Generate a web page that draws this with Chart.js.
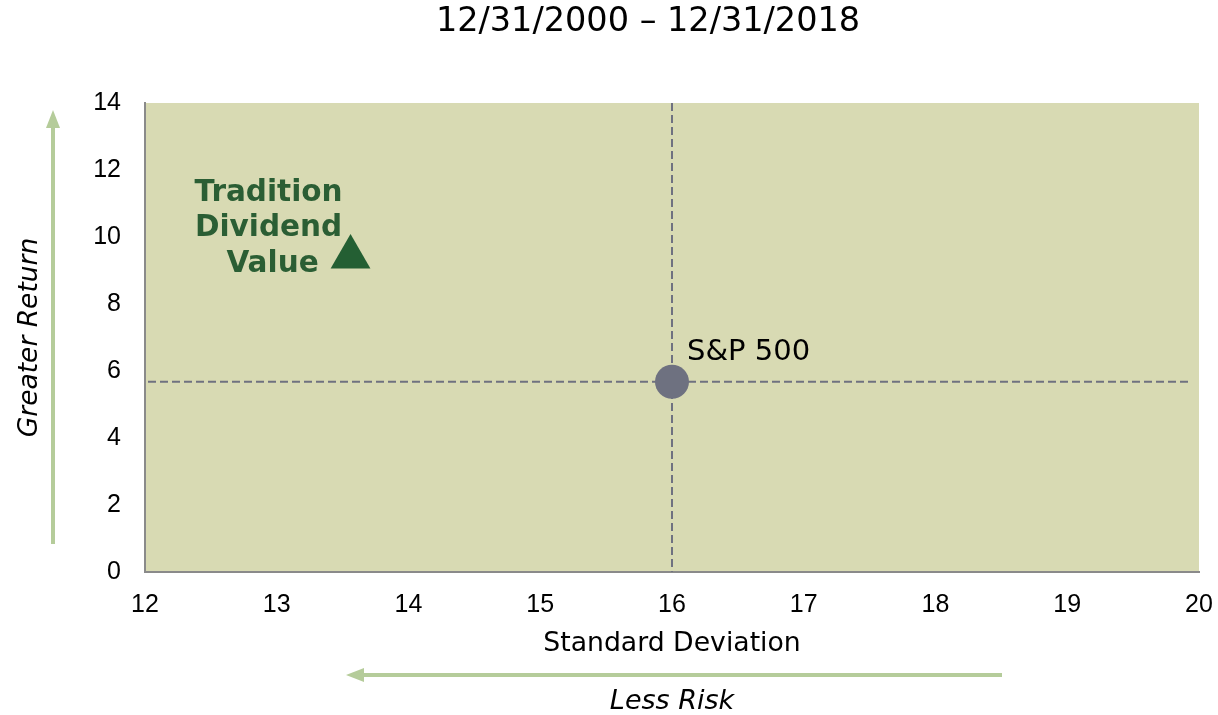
<!DOCTYPE html>
<html>
<head>
<meta charset="utf-8">
<script src="https://cdn.jsdelivr.net/npm/chart.js@4"></script>
<style>
  html, body { margin: 0; padding: 0; background: #fff; overflow: hidden; }
  #wrap { width: 1218px; height: 715px; }
</style>
</head>
<body>
<div id="wrap"><canvas id="chart"></canvas></div>
<script>
// Risk / return data (standard deviation, annualised return)
const seriesNames = ['Tradition Dividend Value', 'S&P 500'];
const stdDev = [13.56, 16.0];
const returns = [9.4, 5.68];
const xTicks = [12, 13, 14, 15, 16, 17, 18, 19, 20];
const yTicks = [0, 2, 4, 6, 8, 10, 12, 14];
const chartTitle = '12/31/2000 \u2013 12/31/2018';

const plotBg = '#d8dab3';
const arrowColor = '#b5cc9a';
const dashColor = '#6f7180';

// Plot area background
const backgroundPlugin = {
    id: 'plotBackground',
    beforeDraw(chart) {
        const { ctx, chartArea: a } = chart;
        ctx.save();
        ctx.fillStyle = plotBg;
        ctx.fillRect(a.left, a.top, a.right - a.left, a.bottom - a.top);
        ctx.restore();
    }
};

// Dashed cross lines through the benchmark
const crossPlugin = {
    id: 'benchmarkCross',
    beforeDatasetsDraw(chart) {
        const { ctx, chartArea: a, scales } = chart;
        const px = scales.x.getPixelForValue(stdDev[1]);
        const py = scales.y.getPixelForValue(returns[1]);
        ctx.save();
        ctx.strokeStyle = dashColor;
        ctx.lineWidth = 2;
        ctx.setLineDash([8, 4]);
        ctx.beginPath();
        ctx.moveTo(px, a.top);
        ctx.lineTo(px, a.bottom);
        ctx.moveTo(a.left + 3, py);
        ctx.lineTo(a.right - 7, py);
        ctx.stroke();
        ctx.restore();
    }
};

// Title, point labels and the two direction arrows
const annotationPlugin = {
    id: 'annotations',
    afterDraw(chart) {
        const { ctx, chartArea: a, scales } = chart;
        ctx.save();
        ctx.textBaseline = 'middle';

        // Title
        ctx.fillStyle = '#000';
        ctx.font = '33.5px "DejaVu Sans", Verdana, sans-serif';
        ctx.textAlign = 'center';
        ctx.fillText(chartTitle, 648, 22);

        // Tradition label
        const tx = scales.x.getPixelForValue(stdDev[0]);
        const ty = scales.y.getPixelForValue(returns[0]);
        ctx.fillStyle = '#2b5e34';
        ctx.font = 'bold 29.5px "DejaVu Sans", Verdana, sans-serif';
        ['Tradition', 'Dividend', 'Value'].forEach((line, i) => {
            const off = i === 2 ? 4 : 0;
            ctx.fillText(line, tx - 82 + off, ty - 64 + i * 35.5);
        });

        // S&P label
        const sx = scales.x.getPixelForValue(stdDev[1]);
        const sy = scales.y.getPixelForValue(returns[1]);
        ctx.fillStyle = '#000';
        ctx.font = '29px "DejaVu Sans", Verdana, sans-serif';
        ctx.textAlign = 'left';
        ctx.fillText('S&P 500', sx + 15, sy - 29);

        // Vertical arrow (greater return)
        ctx.fillStyle = arrowColor;
        ctx.fillRect(51, 126, 4, 418);
        ctx.beginPath();
        ctx.moveTo(53, 110);
        ctx.lineTo(60, 128);
        ctx.lineTo(46, 128);
        ctx.closePath();
        ctx.fill();

        // Horizontal arrow (less risk)
        ctx.fillRect(362, 673, 640, 4);
        ctx.beginPath();
        ctx.moveTo(346, 675);
        ctx.lineTo(364, 668);
        ctx.lineTo(364, 682);
        ctx.closePath();
        ctx.fill();

        ctx.fillStyle = '#000';
        ctx.font = 'italic 27px "DejaVu Sans", Verdana, sans-serif';
        ctx.textAlign = 'center';
        ctx.fillText('Less Risk', (a.left + a.right) / 2, 702);

        ctx.restore();
    }
};

const tickFont = { family: '"Liberation Sans", Arial, sans-serif', size: 25 };

new Chart(document.getElementById('chart'), {
    type: 'scatter',
    data: {
        datasets: [
            {
                label: seriesNames[0],
                data: [{ x: stdDev[0], y: returns[0] }],
                pointStyle: 'triangle',
                pointRadius: 23,
                pointHoverRadius: 23,
                backgroundColor: '#245f33',
                borderColor: '#245f33',
                borderWidth: 0
            },
            {
                label: seriesNames[1],
                data: [{ x: stdDev[1], y: returns[1] }],
                pointStyle: 'circle',
                pointRadius: 17,
                pointHoverRadius: 17,
                backgroundColor: '#6e7180',
                borderColor: '#6e7180',
                borderWidth: 0
            }
        ]
    },
    options: {
        responsive: true,
        maintainAspectRatio: false,
        animation: false,
        layout: {
            autoPadding: false,
            padding: { left: 0, right: 19, top: 103, bottom: 0 }
        },
        plugins: {
            legend: { display: false },
            title: { display: false }
        },
        scales: {
            x: {
                type: 'linear',
                min: xTicks[0],
                max: xTicks[xTicks.length - 1],
                afterBuildTicks: s => { s.ticks = xTicks.map(v => ({ value: v })); },
                afterFit: s => {
                    s.height = 143;
                    s.paddingLeft = 0;
                    s.paddingRight = 0;
                },
                grid: { display: false, drawTicks: false },
                border: { display: true, color: '#8a8a8a', width: 2 },
                ticks: { color: '#000', font: tickFont, padding: 18, maxRotation: 0 },
                title: {
                    display: true,
                    text: 'Standard Deviation',
                    color: '#000',
                    font: { family: '"DejaVu Sans", Verdana, sans-serif', size: 26.7 },
                    padding: { top: 0, bottom: 55 }
                }
            },
            y: {
                type: 'linear',
                min: yTicks[0],
                max: yTicks[yTicks.length - 1],
                afterBuildTicks: s => { s.ticks = yTicks.map(v => ({ value: v })); },
                afterFit: s => {
                    s.width = 145;
                    s.paddingTop = 0;
                    s.paddingBottom = 0;
                },
                grid: { display: false, drawTicks: false },
                border: { display: true, color: '#8a8a8a', width: 2 },
                ticks: { color: '#000', font: tickFont, padding: 24 },
                title: {
                    display: true,
                    text: 'Greater Return',
                    color: '#000',
                    font: { family: '"DejaVu Sans", Verdana, sans-serif', size: 26.5, style: 'italic' },
                    padding: { top: 14, bottom: 0 }
                }
            }
        }
    },
    plugins: [backgroundPlugin, crossPlugin, annotationPlugin]
});
</script>
</body>
</html>
